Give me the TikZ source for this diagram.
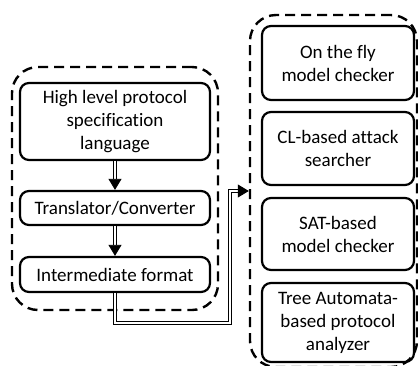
\documentclass[tikz,border=0pt]{standalone}
\usepackage{fontspec}
\setmainfont[Ligatures=CommonOff]{Carlito}
\usetikzlibrary{arrows.meta}
\tikzset{
  group/.style={draw, line width=2.4pt, dash pattern=on 10pt off 6pt, rounded corners=26pt, inner sep=0pt},
  box/.style={draw, line width=2.2pt, rounded corners=9pt, inner sep=0pt, align=center,
    font=\fontsize{19}{23}\selectfont},
  dbl/.style={draw, double=white, double distance=1.8pt, line width=0.8pt},
  tip/.style={-{Triangle[length=11pt,width=13pt]}},
}
\begin{document}
\begin{tikzpicture}[x=1pt, y=-1pt]
\useasboundingbox (0,0) rectangle (418,365);
% left group: specification front end
\node[group, minimum width=206pt, minimum height=243pt] (lgrp) at (115,188.5) {};
\node[box, minimum width=190pt, minimum height=77pt] (hl) at (115,121.5)
  {High level protocol\\specification\\language};
\node[box, minimum width=190pt, minimum height=34pt] (tr) at (115,208)
  {Translator/Converter};
\node[box, minimum width=190pt, minimum height=35pt] (im) at (115,274.5)
  {Intermediate format};
% right group: back ends
\node[group, minimum width=167pt, minimum height=352pt] (rgrp) at (333.5,191) {};
\node[box, minimum width=152pt, minimum height=74pt] (otf) at (338,63)
  {On the fly\\model checker};
\node[box, minimum width=152pt, minimum height=73pt] (cl) at (338,148.5)
  {CL-based attack\\searcher};
\node[box, minimum width=152pt, minimum height=72pt] (sat) at (338,234)
  {SAT-based\\model checker};
\node[box, minimum width=152pt, minimum height=79pt] (ta) at (338,322.5)
  {Tree Automata-\\based protocol\\analyzer};
% connectors
\coordinate (bend) at (230,323);
\draw[dbl, tip] (hl) -- (tr);
\draw[dbl, tip] (tr) -- (im);
\draw[dbl, tip] (im.south) |- (bend) |- (rgrp.west);
\end{tikzpicture}
\end{document}
